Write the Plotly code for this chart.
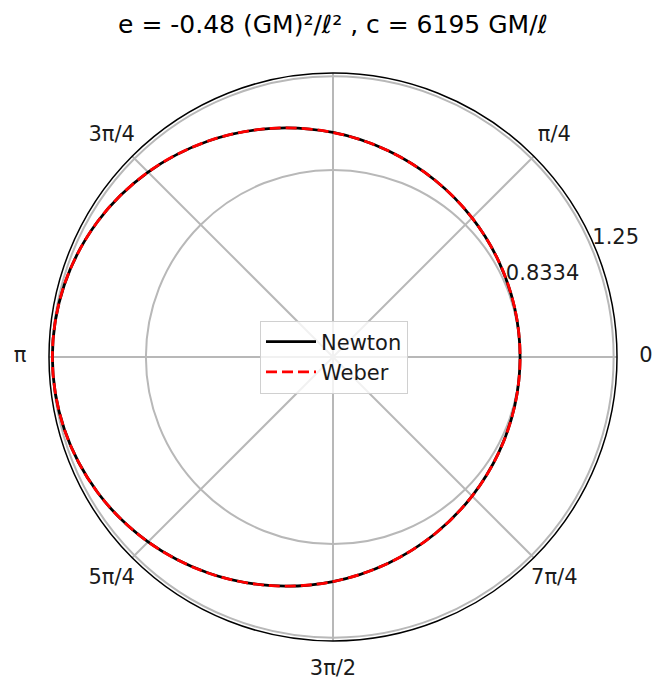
import plotly.graph_objects as go

# Orbit samples: polar angle (degrees) and radius (units of l^2/GM)
theta_deg = [0, 15, 30, 45, 60, 75, 90, 105, 120, 135, 150, 165, 180,
             195, 210, 225, 240, 255, 270, 285, 300, 315, 330, 345, 360]
r_newton = [0.8333, 0.8381, 0.8524, 0.8761, 0.9091, 0.9508, 1.0000, 1.0546,
            1.1111, 1.1647, 1.2095, 1.2394, 1.2500, 1.2394, 1.2095, 1.1647,
            1.1111, 1.0546, 1.0000, 0.9508, 0.9091, 0.8761, 0.8524, 0.8381, 0.8333]
r_weber = [0.8334, 0.8381, 0.8524, 0.8761, 0.9091, 0.9508, 1.0000, 1.0546,
           1.1111, 1.1647, 1.2095, 1.2394, 1.2500, 1.2394, 1.2095, 1.1647,
           1.1111, 1.0546, 1.0000, 0.9508, 0.9091, 0.8761, 0.8524, 0.8381, 0.8334]

angle_ticks = [0, 45, 90, 135, 180, 225, 270, 315]
angle_labels = ["0", "π/4", "", "3π/4", "π", "5π/4", "3π/2", "7π/4"]
r_ticks = [0.8334, 1.25]
r_labels = ["0.8334", "1.25"]
r_max = 1.265
r_label_angle = 22.5          # radial tick labels sit along this direction

title_text = "e = -0.48 (GM)²/ℓ² , c = 6195 GM/ℓ"

font = "DejaVu Sans"
text_color = "#1a1a1a"

# plot area: centre and rim radius in pixels
W, H = 652, 682
cx, cy, rim = 333, 357, 284
label_ring = 313               # angular tick labels are centred on this ring


def square_domain(radius):
    return dict(x=[(cx - radius) / W, (cx + radius) / W],
                y=[(H - cy - radius) / H, (H - cy + radius) / H])


fig = go.Figure()
fig.add_trace(go.Scatterpolar(
    r=r_newton, theta=theta_deg, mode="lines", name="Newton",
    line=dict(color="black", width=2.8, shape="spline"),
))
fig.add_trace(go.Scatterpolar(
    r=r_weber, theta=theta_deg, mode="lines", name="Weber",
    line=dict(color="red", width=2.8, dash="11px,5px", shape="spline"),
))

# radial tick labels: lower-left corner anchored at each tick radius
fig.add_trace(go.Scatterpolar(
    r=r_ticks, theta=[r_label_angle] * len(r_ticks), mode="text",
    text=r_labels, textposition="top right", showlegend=False, hoverinfo="skip",
    textfont=dict(family=font, size=21, color=text_color), cliponaxis=False,
))
# angular tick labels, centred on a ring outside the rim (separate bare polar)
fig.add_trace(go.Scatterpolar(
    r=[1] * len(angle_ticks), theta=angle_ticks, mode="text",
    text=angle_labels, textposition="middle center", showlegend=False,
    hoverinfo="skip", textfont=dict(family=font, size=21, color=text_color),
    cliponaxis=False, subplot="polar2",
))

bare_axis = dict(visible=False, showgrid=False, showline=False,
                 showticklabels=False, ticks="")

fig.update_layout(
    width=W, height=H,
    margin=dict(l=0, r=0, t=0, b=0),
    paper_bgcolor="white",
    font=dict(family=font, size=21, color=text_color),
    title=dict(text=title_text, x=cx / W, xanchor="center", y=0.965,
               yanchor="middle", font=dict(family=font, size=25, color="black")),
    polar=dict(
        domain=square_domain(rim),
        bgcolor="white",
        angularaxis=dict(
            direction="counterclockwise", rotation=0,
            tickmode="array", tickvals=angle_ticks, showticklabels=False,
            ticks="", showline=True, linecolor="black", linewidth=1.5,
            gridcolor="#b8b8b8", gridwidth=1.5,
        ),
        radialaxis=dict(
            range=[0, r_max], angle=r_label_angle,
            tickmode="array", tickvals=r_ticks, showticklabels=False,
            ticks="", showline=False,
            gridcolor="#b8b8b8", gridwidth=1.5,
        ),
    ),
    polar2=dict(
        domain=square_domain(label_ring),
        bgcolor="rgba(0,0,0,0)",
        angularaxis=dict(direction="counterclockwise", rotation=0, **bare_axis),
        radialaxis=dict(range=[0, 1], **bare_axis),
    ),
    showlegend=True,
    legend=dict(
        x=334 / W, y=1 - cy / H, xanchor="center", yanchor="middle",
        bgcolor="rgba(255,255,255,0.8)", bordercolor="#d0d0d0", borderwidth=1,
        font=dict(family=font, size=21, color=text_color),
        itemwidth=50, tracegroupgap=0,
    ),
)

fig.write_html("out.html")
